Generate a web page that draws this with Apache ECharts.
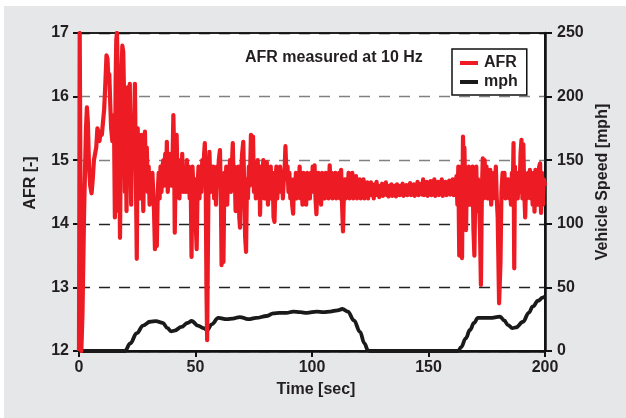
<!DOCTYPE html>
<html>
<head>
<meta charset="utf-8">
<script src="https://cdn.jsdelivr.net/npm/echarts@6/dist/echarts.min.js"></script>
<style>
  html, body { margin: 0; padding: 0; background: #ffffff; }
  #chart { width: 626px; height: 418px; }
</style>
</head>
<body>
<div id="chart"></div>
<script>
// Air-fuel ratio logged at 10 Hz: [time in s, AFR]
const afrSamples = [
  [0.0,12.0],[0.3,17.0],[0.6,17.0],[1.0,12.0],[1.5,12.6],[2.2,14.2],[3.0,15.5],[3.4,15.83],[3.8,15.6],[4.3,14.9],
  [4.8,14.6],[5.4,14.48],[5.9,14.7],[6.4,15.0],[6.9,15.1],[7.4,15.2],[7.9,15.5],[8.3,15.45],[8.8,15.3],[9.3,15.45],
  [9.8,15.4],[10.3,15.6],[10.8,15.8],[11.3,16.2],[11.8,16.65],[12.2,16.6],[12.6,16.3],[13.0,16.35],[13.4,15.9],[13.8,15.5],
  [14.3,15.3],[14.7,15.7],[15.1,15.3],[15.4,14.1],[15.7,16.2],[16.0,16.9],[16.3,17.0],[16.6,16.4],[16.9,14.2],[17.2,15.3],
  [17.6,13.78],[17.9,15.0],[18.2,16.3],[18.6,16.8],[19.0,16.7],[19.4,15.9],[19.7,14.5],[20.0,15.6],[20.4,14.2],[20.7,16.0],
  [21.0,16.15],[21.4,15.4],[21.8,16.2],[22.1,15.0],[22.4,14.3],[22.8,15.6],[23.2,14.9],[23.6,15.5],[24.0,16.2],[24.4,14.8],
  [24.8,13.45],[25.2,15.5],[25.6,14.6],[26.0,15.3],[26.4,14.4],[26.8,15.4],[27.2,14.8],[27.6,14.2],[28.0,15.1],[28.3,15.45],
  [28.7,14.7],[29.1,15.2],[29.5,14.5],[29.9,14.9],[30.3,14.3],[30.7,14.7],[31.1,14.4],[31.5,14.8],[31.8,14.77],[32.2,14.2],
  [32.6,13.6],[33.0,14.4],[33.4,13.65],[33.8,14.5],[34.2,14.8],[34.6,14.4],[35.0,14.9],[35.4,14.5],[35.8,14.9],[36.2,15.0],
  [36.6,14.6],[37.0,15.1],[37.4,14.7],[37.7,15.29],[38.1,14.5],[38.5,15.0],[38.9,14.6],[39.3,15.1],[39.7,14.6],[40.1,14.9],
  [40.5,15.71],[40.8,15.2],[41.1,13.86],[41.5,14.9],[41.9,15.4],[42.3,14.6],[42.7,15.0],[43.1,14.4],[43.5,14.9],[43.9,14.6],
  [44.3,15.1],[44.7,14.5],[45.1,14.8],[45.5,14.7],[45.9,14.5],[46.3,15.0],[46.7,14.5],[47.1,14.9],[47.5,14.4],[47.9,14.8],
  [48.3,13.48],[48.7,14.9],[49.0,14.88],[49.4,14.3],[49.8,14.7],[50.2,13.9],[50.5,13.6],[50.9,14.6],[51.3,14.9],[51.7,14.4],
  [52.1,14.8],[52.5,14.5],[52.9,15.0],[53.3,14.6],[53.7,15.1],[54.0,15.27],[54.4,14.6],[54.7,13.0],[55.0,12.17],[55.3,13.5],
  [55.6,14.7],[56.0,15.13],[56.4,14.5],[56.8,14.9],[57.2,14.6],[57.6,14.9],[58.0,14.4],[58.4,14.8],[58.8,14.3],[59.2,14.9],
  [59.6,14.6],[60.0,15.0],[60.5,15.16],[60.9,14.4],[61.2,13.35],[61.6,14.6],[62.0,13.4],[62.4,14.8],[62.8,14.5],[63.2,14.9],
  [63.6,14.3],[64.0,14.8],[64.4,14.6],[64.8,15.0],[65.2,14.5],[65.6,14.9],[66.0,15.27],[66.4,14.6],[66.8,14.9],[67.2,14.2],
  [67.6,14.8],[68.0,14.5],[68.4,14.9],[68.8,14.1],[69.1,13.94],[69.5,14.7],[70.0,15.1],[70.5,15.29],[70.9,14.6],[71.3,13.8],
  [71.7,13.56],[72.1,14.7],[72.5,14.4],[72.9,14.9],[73.3,14.6],[73.8,15.4],[74.2,14.8],[74.7,15.37],[75.1,14.5],[75.5,14.9],
  [75.9,14.4],[76.3,14.8],[76.7,15.0],[77.1,14.5],[77.5,14.8],[77.7,14.14],[78.1,14.9],[78.5,14.6],[79.1,15.0],[79.5,14.4],
  [79.9,14.8],[80.3,14.6],[80.6,14.97],[81.1,14.3],[81.5,14.7],[81.9,14.5],[82.3,14.9],[82.7,14.4],[83.1,14.8],[83.5,14.1],
  [83.9,14.03],[84.3,14.6],[84.7,14.9],[85.1,14.4],[85.5,14.8],[85.9,14.5],[86.3,14.9],[86.7,14.6],[87.1,14.8],[87.5,14.4],
  [87.9,14.7],[88.3,14.9],[88.6,15.22],[89.1,14.7],[89.5,14.9],[89.9,14.5],[90.3,14.8],[90.7,14.4],[91.1,14.7],[91.5,14.3],
  [91.9,14.16],[92.3,14.7],[92.7,14.5],[93.1,14.8],[93.5,14.4],[93.9,14.7],[94.3,14.5],[94.7,14.9],[95.1,14.4],[95.5,14.7],
  [95.9,14.3],[96.3,14.8],[96.7,14.5],[97.1,14.7],[97.5,14.3],[97.9,14.8],[98.3,14.5],[98.7,14.7],[99.1,14.4],[99.5,14.8],
  [99.9,14.5],[100.3,14.9],[100.7,14.6],[101.1,14.92],[101.5,14.4],[101.9,14.15],[102.3,14.6],[102.7,14.8],[103.1,14.4],[103.5,14.7],
  [103.9,14.3],[104.3,14.8],[104.7,14.5],[105.1,14.7],[105.5,14.4],[105.9,14.8],[106.3,14.5],[106.7,14.7],[107.1,14.4],[107.6,14.92],
  [108.0,14.5],[108.4,14.8],[108.8,14.4],[109.2,14.7],[109.6,14.5],[110.0,14.8],[110.4,14.4],[110.8,14.7],[111.2,14.5],[111.6,14.8],
  [112.0,14.4],[112.5,14.85],[112.9,14.3],[113.3,13.88],[113.7,14.5],[114.1,14.7],[114.5,14.4],[114.9,14.7],[115.3,14.5],[115.7,14.8],
  [116.1,14.4],[116.5,14.7],[116.9,14.5],[117.3,14.8],[117.7,14.4],[118.1,14.7],[118.5,14.5],[118.9,14.75],[119.3,14.4],[119.7,14.65],
  [120.1,14.45],[120.5,14.7],[120.9,14.4],[121.3,14.65],[121.7,14.45],[122.1,14.7],[122.5,14.4],[122.9,14.6],[123.3,14.45],[123.7,14.65],
  [124.1,14.4],[124.5,14.6],[124.9,14.5],[125.3,14.65],[125.7,14.45],[126.1,14.6],[126.5,14.4],[126.9,14.62],[127.3,14.48],[127.7,14.66],
  [128.1,14.45],[128.5,14.6],[128.9,14.42],[129.3,14.58],[129.7,14.47],[130.1,14.63],[130.5,14.44],[130.9,14.6],[131.3,14.5],[131.7,14.65],
  [132.1,14.45],[132.5,14.58],[132.9,14.43],[133.3,14.6],[133.7,14.48],[134.1,14.62],[134.5,14.44],[134.9,14.57],[135.3,14.46],[135.7,14.6],
  [136.1,14.43],[136.5,14.62],[136.9,14.47],[137.3,14.58],[137.7,14.45],[138.1,14.6],[138.5,14.48],[138.9,14.63],[139.3,14.44],[139.7,14.59],
  [140.1,14.46],[140.5,14.61],[140.9,14.45],[141.3,14.6],[141.7,14.48],[142.1,14.64],[142.5,14.45],[142.9,14.58],[143.3,14.47],[143.7,14.62],
  [144.1,14.44],[144.5,14.6],[144.9,14.47],[145.3,14.66],[145.7,14.45],[146.1,14.6],[146.5,14.48],[146.9,14.63],[147.3,14.46],[147.7,14.7],
  [148.1,14.45],[148.5,14.62],[148.9,14.48],[149.3,14.66],[149.7,14.44],[150.1,14.6],[150.5,14.5],[150.9,14.67],[151.3,14.45],[151.7,14.62],
  [152.1,14.48],[152.5,14.7],[152.9,14.44],[153.3,14.6],[153.7,14.47],[154.1,14.66],[154.5,14.45],[154.9,14.62],[155.3,14.5],[155.7,14.7],
  [156.1,14.44],[156.5,14.63],[156.9,14.48],[157.3,14.66],[157.7,14.45],[158.1,14.6],[158.5,14.5],[158.9,14.68],[159.3,14.46],[159.7,14.62],
  [160.0,14.55],[160.4,14.7],[160.8,14.45],[161.2,14.65],[161.6,14.5],[162.0,14.75],[162.4,14.3],[162.8,14.9],[163.2,13.5],[163.6,14.6],
  [164.0,14.9],[164.4,13.46],[164.8,15.37],[165.1,14.9],[165.4,15.2],[165.8,14.5],[166.1,13.9],[166.5,14.8],[166.9,14.4],[167.3,14.9],
  [167.7,14.3],[168.1,14.8],[168.5,14.5],[168.9,14.9],[169.3,13.9],[169.7,13.5],[170.1,14.6],[170.5,14.9],[170.9,14.2],[171.3,14.7],
  [171.7,14.4],[172.1,13.9],[172.5,13.04],[172.9,14.5],[173.3,15.03],[173.7,14.4],[174.1,15.0],[174.5,14.6],[174.9,14.9],[175.3,14.4],
  [175.7,14.8],[176.1,14.5],[176.5,14.85],[176.9,14.3],[177.3,14.7],[177.7,14.4],[178.1,14.8],[178.5,14.5],[178.9,14.9],[179.3,14.4],
  [179.7,14.1],[180.3,12.75],[180.9,13.4],[181.3,14.5],[181.8,14.8],[182.2,14.5],[182.6,14.8],[183.0,14.4],[183.4,14.7],[183.8,14.5],
  [184.2,14.7],[184.6,14.4],[185.0,14.6],[185.4,14.3],[185.8,14.8],[186.2,14.6],[186.5,15.27],[186.8,13.3],[187.1,14.9],[187.5,14.5],
  [187.9,14.8],[188.3,14.4],[188.7,14.8],[189.1,14.5],[189.5,15.1],[189.9,15.32],[190.3,14.4],[190.7,15.25],[191.1,14.5],[191.5,14.1],
  [191.9,14.7],[192.3,14.4],[192.7,14.8],[193.1,14.5],[193.5,14.85],[193.9,14.4],[194.3,14.7],[194.7,14.3],[195.1,14.8],[195.5,14.19],
  [195.9,14.85],[196.3,14.4],[196.7,14.8],[197.1,14.3],[197.5,14.9],[197.9,14.95],[198.3,14.17],[198.7,14.8],[199.1,14.3],[199.5,14.7],
  [200.0,14.6]
];

// Vehicle speed: [time in s, mph]
const speedSamples = [
  [0,0],[19.7,0],[22,6],[24.8,14],[27.5,20],[30.5,23],[33,23.5],[36,22],[38,18],[39.5,15.5],
  [41,16],[44,19],[46.5,22],[48.4,23.6],[51,20],[53.4,18],[55,16.5],[57,21],[59.8,26],[63.5,25],
  [66,25.5],[69,26.7],[72.6,25],[76,26],[80.6,27.5],[83.4,29.6],[86,30],[89,30],[92,31],[95,30.5],
  [97.8,30],[102,31],[105,30.5],[107.7,31],[111,32],[113,33],[115.4,31],[118,24],[120.6,15],[122.5,6],
  [124,0.5],[125,0],[162.7,0],[164,3],[166,10],[167.8,16.5],[169.5,22],[171.2,26],[174,26],[176.4,26],
  [180.7,27],[182.5,24],[184.1,20.4],[186,18],[187.5,18.5],[190.6,23],[193,30],[194.8,35],[197,39.5],[199,42],
  [200,43]
];

const timeRange = [0, 200, 50];
const afrRange = [12, 17, 1];
const speedRange = [0, 250, 50];

const FONT = '"Liberation Sans", Arial, sans-serif';
const INK = '#231f20';

const chart = echarts.init(document.getElementById('chart'), null, { renderer: 'canvas' });

const tickLabel = { fontFamily: FONT, fontWeight: 'bold', fontSize: 16, color: INK };
const axisTitle = { fontFamily: FONT, fontWeight: 'bold', fontSize: 16, color: INK };

chart.setOption({
  backgroundColor: '#ffffff',
  animation: false,
  graphic: [
    {
      type: 'rect', z: -10, silent: true,
      shape: { x: 4, y: 6, width: 622, height: 412 },
      style: { fill: '#e6e7e8' }
    }
  ],
  title: {
    text: 'AFR measured at 10 Hz',
    left: 240, top: 45,
    textStyle: { fontFamily: FONT, fontWeight: 'bold', fontSize: 16, color: INK }
  },
  legend: {
    orient: 'vertical',
    left: 452, top: 49,
    padding: [6, 9, 5, 8],
    itemGap: 3,
    itemWidth: 18, itemHeight: 4,
    icon: 'rect',
    backgroundColor: '#ffffff',
    borderColor: '#111',
    borderWidth: 1.5,
    borderRadius: 0,
    textStyle: { fontFamily: FONT, fontWeight: 'bold', fontSize: 16, color: INK, padding: [0, 0, 0, 1] },
    data: ['AFR', 'mph']
  },
  grid: {
    left: 79, right: 81, top: 33, bottom: 67,
    show: true,
    backgroundColor: '#ffffff',
    borderColor: '#222',
    borderWidth: 2
  },
  xAxis: {
    type: 'value',
    min: timeRange[0], max: timeRange[1], interval: timeRange[2],
    name: 'Time [sec]',
    nameLocation: 'middle',
    nameGap: 31,
    nameTextStyle: Object.assign({}, axisTitle, { padding: [0, 0, 0, 8] }),
    axisLine: { lineStyle: { color: '#111', width: 2.5 } },
    axisTick: { length: 6, lineStyle: { color: '#111', width: 2 } },
    axisLabel: Object.assign({ margin: 9 }, tickLabel),
    splitLine: { show: false }
  },
  yAxis: [
    {
      type: 'value',
      min: afrRange[0], max: afrRange[1], interval: afrRange[2],
      position: 'left',
      name: 'AFR [-]',
      nameLocation: 'middle',
      nameRotate: 90,
      nameGap: 40,
      nameTextStyle: Object.assign({}, axisTitle, { padding: [0, 0, 0, 18] }),
      axisLine: { show: true, lineStyle: { color: '#111', width: 2.5 } },
      axisTick: { show: true, length: 6, lineStyle: { color: '#111', width: 2 } },
      axisLabel: Object.assign({ margin: 10 }, tickLabel),
      splitLine: {
        show: true,
        lineStyle: {
          color: ['#111', '#222', '#222', '#808080', '#808080', '#111'],
          type: [11, 9],
          width: 1.4
        }
      }
    },
    {
      type: 'value',
      min: speedRange[0], max: speedRange[1], interval: speedRange[2],
      position: 'right',
      name: 'Vehicle Speed [mph]',
      nameLocation: 'middle',
      nameRotate: 90,
      nameGap: 48,
      nameTextStyle: Object.assign({}, axisTitle, { padding: [0, 0, 0, 20] }),
      axisLine: { show: true, lineStyle: { color: '#111', width: 2.5 } },
      axisTick: { show: true, length: 7, lineStyle: { color: '#111', width: 2 } },
      axisLabel: Object.assign({ margin: 12 }, tickLabel),
      splitLine: { show: false }
    }
  ],
  series: [
    {
      name: 'AFR',
      type: 'line',
      yAxisIndex: 0,
      data: afrSamples,
      showSymbol: false,
      symbol: 'none',
      sampling: null,
      z: 4,
      color: '#ed1c24',
      lineStyle: { color: '#ed1c24', width: 4.2, join: 'round' }
    },
    {
      name: 'mph',
      type: 'line',
      yAxisIndex: 1,
      data: speedSamples,
      showSymbol: false,
      symbol: 'none',
      smooth: 0.4,
      smoothMonotone: 'x',
      z: 3,
      color: '#1a1a1a',
      lineStyle: { color: '#1a1a1a', width: 3.8 }
    }
  ]
});
</script>
</body>
</html>
